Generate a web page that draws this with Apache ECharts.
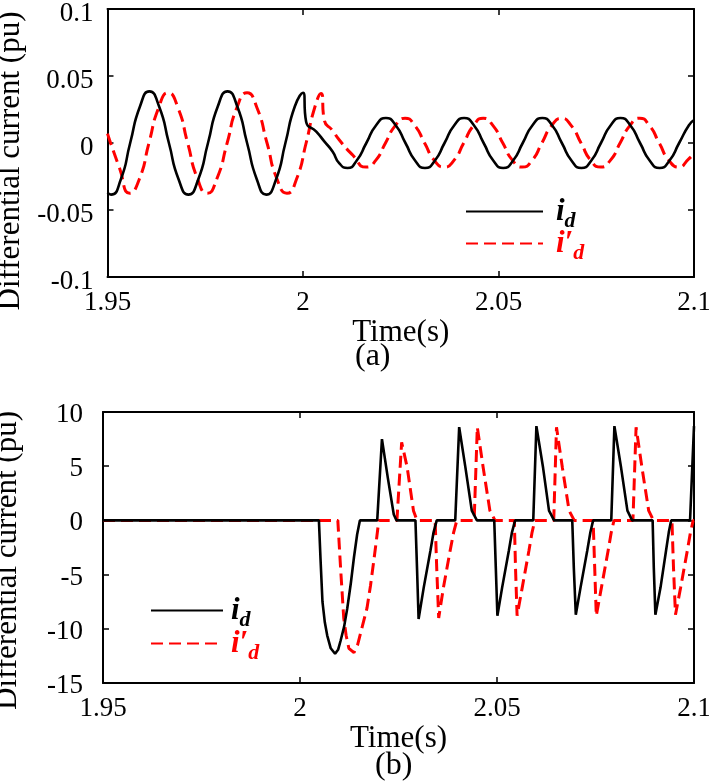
<!DOCTYPE html>
<html><head><meta charset="utf-8">
<script src="https://cdn.jsdelivr.net/npm/echarts@6/dist/echarts.min.js"></script>
<style>html,body{margin:0;padding:0;background:#fff}#c{width:709px;height:784px}</style>
</head><body><div id="c"></div>
<script>
// ---- tick labels ----
const xTickLabels = ['1.95', '2', '2.05', '2.1'];
const yTickLabelsA = ['-0.1', '-0.05', '0', '0.05', '0.1'];
const yTickLabelsB = ['-15', '-10', '-5', '0', '5', '10'];
const seriesNames = ['id', "id'"];

// ---- panel (a): [time s, current pu] ----
const idA = [
  [1.9500,-0.0370],[1.9509,-0.0385],[1.9534,-0.0272],[1.9558,0],[1.9583,0.0272],[1.9607,0.0385],
  [1.9632,0.0272],[1.9657,0],[1.9682,-0.0272],[1.9707,-0.0385],[1.9732,-0.0272],[1.9757,0],
  [1.9782,0.0272],[1.9807,0.0385],[1.9832,0.0272],[1.9857,0],[1.9882,-0.0272],[1.9906,-0.0385],
  [1.9931,-0.0272],[1.9955,0],[1.9979,0.0272],[2.0000,0.0375],[2.0008,0.0159],[2.0034,0.0085],
  [2.0055,0.0010],[2.0076,-0.0065],[2.0093,-0.0152],[2.0114,-0.0187],[2.0137,-0.0132],[2.0162,0],
  [2.0187,0.0132],[2.0212,0.0187],[2.0237,0.0132],[2.0262,0],[2.0287,-0.0132],[2.0312,-0.0187],
  [2.0337,-0.0132],[2.0362,0],[2.0387,0.0132],[2.0412,0.0187],[2.0437,0.0132],[2.0462,0],
  [2.0487,-0.0132],[2.0512,-0.0187],[2.0537,-0.0132],[2.0562,0],[2.0587,0.0132],[2.0612,0.0187],
  [2.0637,0.0132],[2.0662,0],[2.0687,-0.0132],[2.0712,-0.0187],[2.0737,-0.0132],[2.0762,0],
  [2.0787,0.0132],[2.0812,0.0187],[2.0837,0.0132],[2.0862,0],[2.0887,-0.0132],[2.0912,-0.0187],
  [2.0937,-0.0132],[2.0962,0],[2.0987,0.0132],[2.1000,0.0170]
];
const idpA = [
  [1.9500,0.0070],[1.9530,-0.0180],[1.9557,-0.0375],[1.9582,-0.0265],[1.9606,0],[1.9631,0.0265],
  [1.9655,0.0375],[1.9680,0.0265],[1.9705,0],[1.9730,-0.0265],[1.9755,-0.0375],[1.9780,-0.0265],
  [1.9806,0],[1.9831,0.0265],[1.9857,0.0375],[1.9882,0.0265],[1.9908,0],[1.9933,-0.0265],
  [1.9959,-0.0375],[1.9984,-0.0265],[2.0008,0],[2.0030,0.0265],[2.0046,0.0370],[2.0055,0.0165],
  [2.0075,0.0095],[2.0093,0.0022],[2.0127,-0.0090],[2.0161,-0.0180],[2.0186,-0.0130],[2.0211,0],
  [2.0236,0.0130],[2.0261,0.0185],[2.0286,0.0130],[2.0311,0],[2.0336,-0.0130],[2.0361,-0.0180],
  [2.0386,-0.0130],[2.0411,0],[2.0436,0.0130],[2.0461,0.0185],[2.0486,0.0130],[2.0511,0],
  [2.0536,-0.0130],[2.0561,-0.0180],[2.0586,-0.0130],[2.0611,0],[2.0636,0.0130],[2.0661,0.0185],
  [2.0686,0.0130],[2.0711,0],[2.0736,-0.0130],[2.0761,-0.0180],[2.0786,-0.0130],[2.0811,0],
  [2.0836,0.0130],[2.0861,0.0185],[2.0886,0.0130],[2.0911,0],[2.0936,-0.0130],[2.0961,-0.0180],
  [2.0986,-0.0120],[2.1000,-0.0080]
];

// ---- panel (b): [time s, current pu] ----
const idB = [
  [1.9500,0],[2.0048,0],[2.0052,-3.5],[2.0057,-7.5],[2.0063,-9.4],[2.0069,-10.6],[2.0078,-11.8],
  [2.0089,-12.3],[2.0097,-11.9],[2.0103,-11.1],[2.0112,-9.8],[2.0120,-8.1],[2.0129,-5.8],
  [2.0137,-3.4],[2.0145,-1.3],[2.0152,0],
  [2.0196,0],[2.0208,7.5],[2.0223,3.9],[2.0238,0.55],[2.0245,0],
  [2.0293,0],[2.0297,-4.4],[2.0301,-9.1],[2.0314,-6.2],[2.0331,-2.8],[2.0339,-1.1],[2.0347,0],
  [2.0394,0],[2.0404,8.6],[2.0420,4.85],[2.0436,0.9],[2.0449,0],
  [2.0493,0],[2.0497,-4.4],[2.0501,-8.8],[2.0513,-6.2],[2.0530,-2.8],[2.0538,-1.1],[2.0546,0],
  [2.0592,0],[2.0600,8.7],[2.0617,4.85],[2.0632,0.9],[2.0645,0],
  [2.0691,0],[2.0695,-4.4],[2.0700,-8.7],[2.0712,-6.2],[2.0729,-2.8],[2.0737,-1.1],[2.0744,0],
  [2.0790,0],[2.0798,8.7],[2.0815,4.85],[2.0831,0.9],[2.0843,0],
  [2.0895,0],[2.0898,-4.4],[2.0902,-8.7],[2.0915,-6.2],[2.0929,-2.8],[2.0936,-1.1],[2.0942,0],
  [2.0990,0],[2.1000,8.7]
];
const idpB = [
  [1.9500,0],[2.0096,0],[2.0103,-4.4],[2.0111,-9.0],[2.0117,-10.6],[2.0124,-11.8],[2.0137,-12.2],
  [2.0146,-11.5],[2.0158,-9.8],[2.0170,-8.1],[2.0179,-6.0],[2.0187,-3.8],[2.0194,-1.8],[2.0200,0],
  [2.0246,0],[2.0258,7.2],[2.0272,4.9],[2.0288,0.9],[2.0297,0],
  [2.0343,0],[2.0347,-4.4],[2.0352,-9.0],[2.0364,-6.2],[2.0381,-2.8],[2.0390,-1.1],[2.0398,0],
  [2.0442,0],[2.0450,8.6],[2.0465,4.85],[2.0482,0.9],[2.0495,0],
  [2.0544,0],[2.0547,-4.4],[2.0551,-8.8],[2.0564,-6.2],[2.0581,-2.8],[2.0589,-1.1],[2.0596,0],
  [2.0644,0],[2.0651,8.6],[2.0666,4.85],[2.0683,0.9],[2.0696,0],
  [2.0744,0],[2.0748,-4.4],[2.0752,-8.8],[2.0765,-6.2],[2.0782,-2.8],[2.0790,-1.1],[2.0797,0],
  [2.0845,0],[2.0853,8.6],[2.0868,4.85],[2.0885,0.9],[2.0897,0],
  [2.0944,0],[2.0948,-4.4],[2.0953,-8.7],[2.0966,-6.2],[2.0983,-2.8],[2.0991,-1.1],[2.0998,0],[2.1000,0]
];

const FONT = "'Liberation Serif','Times New Roman',serif";
const RED = '#ff0000';
const chart = echarts.init(document.getElementById('c'), null, {renderer: 'canvas'});

function xAxes(grid, nameGap) {
  return [
    {type:'value', gridIndex:grid, position:'bottom', min:1.95, max:2.1, interval:0.05,
     name:'Time(s)', nameLocation:'middle', nameGap:nameGap,
     nameTextStyle:{fontFamily:FONT, fontSize:31, color:'#000'},
     axisLine:{show:true, onZero:false, lineStyle:{color:'#000', width:2}},
     axisTick:{show:true, inside:true, length:6, lineStyle:{color:'#000', width:1.5}},
     axisLabel:{margin:12, fontFamily:FONT, fontSize:27, color:'#000',
       formatter:(v, i) => xTickLabels[i]},
     splitLine:{show:false}},
    {type:'value', gridIndex:grid, position:'top', min:1.95, max:2.1, interval:0.05,
     axisLine:{show:true, onZero:false, lineStyle:{color:'#000', width:2}},
     axisTick:{show:true, inside:true, length:6, lineStyle:{color:'#000', width:1.5}},
     axisLabel:{show:false}, splitLine:{show:false}}
  ];
}
function yAxes(grid, min, max, interval, labels, margin, pad, lpad) {
  return [
    {type:'value', gridIndex:grid, position:'left', min:min, max:max, interval:interval,
     name:'Differential current (pu)', nameLocation:'middle', nameGap:80,
     nameTextStyle:{fontFamily:FONT, fontSize:31, color:'#000', padding:[0, pad, 0, 0]},
     axisLine:{show:true, onZero:false, lineStyle:{color:'#000', width:2}},
     axisTick:{show:true, inside:true, length:6, lineStyle:{color:'#000', width:1.5}},
     axisLabel:{margin:margin, color:'#000',
       rich:{t:{fontFamily:FONT, fontSize:27, color:'#000', padding:[lpad,0,0,0]}},
       formatter:(v, i) => '{t|' + labels[i] + '}'},
     splitLine:{show:false}},
    {type:'value', gridIndex:grid, position:'right', min:min, max:max, interval:interval,
     axisLine:{show:true, onZero:false, lineStyle:{color:'#000', width:2}},
     axisTick:{show:true, inside:true, length:6, lineStyle:{color:'#000', width:1.5}},
     axisLabel:{show:false}, splitLine:{show:false}}
  ];
}

function richText(gap) {
  return {
    ib:{fontFamily:FONT, fontStyle:'italic', fontWeight:'bold', fontSize:31, color:'#000', padding:[0,0,0,gap]},
    db:{fontFamily:FONT, fontStyle:'italic', fontWeight:'bold', fontSize:22, color:'#000', padding:[20,0,0,0]},
    ir:{fontFamily:FONT, fontStyle:'italic', fontWeight:'bold', fontSize:31, color:RED, padding:[0,0,0,gap]},
    dr:{fontFamily:FONT, fontStyle:'italic', fontWeight:'bold', fontSize:22, color:RED, padding:[20,0,0,0]}
  };
}
const fmt = n => n === seriesNames[0] ? '{ib|i}{db|d}' : "{ir|i\u2032}{dr|d}";
function leg(name, left, top, w, gap) {
  return {data:[name], left:left, top:top, orient:'vertical', itemWidth:w, itemHeight:2,
    padding:0, selectedMode:false, formatter:fmt, itemStyle:{opacity:0},
    textStyle:{rich:richText(gap)}};
}

const option = {
  animation:false,
  backgroundColor:'#fff',
  title:[
    {text:'(a)', left:355, top:341, padding:0, textStyle:{fontFamily:FONT, fontSize:32, fontWeight:'normal', color:'#000'}},
    {text:'(b)', left:375, top:750, padding:0, textStyle:{fontFamily:FONT, fontSize:32, fontWeight:'normal', color:'#000'}}
  ],
  grid:[
    {left:107.5, right:15, top:9, height:268, show:false, outerBoundsMode:'none', containLabel:false},
    {left:103, right:15, top:412, height:271, show:false, outerBoundsMode:'none', containLabel:false}
  ],
  xAxis:[...xAxes(0, 33), ...xAxes(1, 28)],
  yAxis:[...yAxes(0, -0.1, 0.1, 0.05, yTickLabelsA, 14, 36, 9), ...yAxes(1, -15, 10, 5, yTickLabelsB, 20, 26, 6)],
  legend:[
    leg(seriesNames[0], 465, 196, 77, 8),
    leg(seriesNames[1], 465, 228, 77, 8),
    leg(seriesNames[0], 150, 595, 72, 3),
    leg(seriesNames[1], 150, 628, 72, 3)
  ],
  series:[
    {name:seriesNames[0], type:'line', xAxisIndex:0, yAxisIndex:0, data:idA, symbol:'none',
     smooth:0.6, lineStyle:{color:'#000', width:2.6}, itemStyle:{color:'#000'}, z:3},
    {name:seriesNames[1], type:'line', xAxisIndex:0, yAxisIndex:0, data:idpA, symbol:'none',
     smooth:0.6, lineStyle:{color:RED, width:3, type:[12,6]}, itemStyle:{color:RED}, z:2},
    {name:seriesNames[0], type:'line', xAxisIndex:2, yAxisIndex:2, data:idB, symbol:'none',
     lineStyle:{color:'#000', width:2.6}, itemStyle:{color:'#000'}, z:3},
    {name:seriesNames[1], type:'line', xAxisIndex:2, yAxisIndex:2, data:idpB, symbol:'none',
     lineStyle:{color:RED, width:3, type:[12,6]}, itemStyle:{color:RED}, z:2}
  ]
};
chart.setOption(option);
</script></body></html>
